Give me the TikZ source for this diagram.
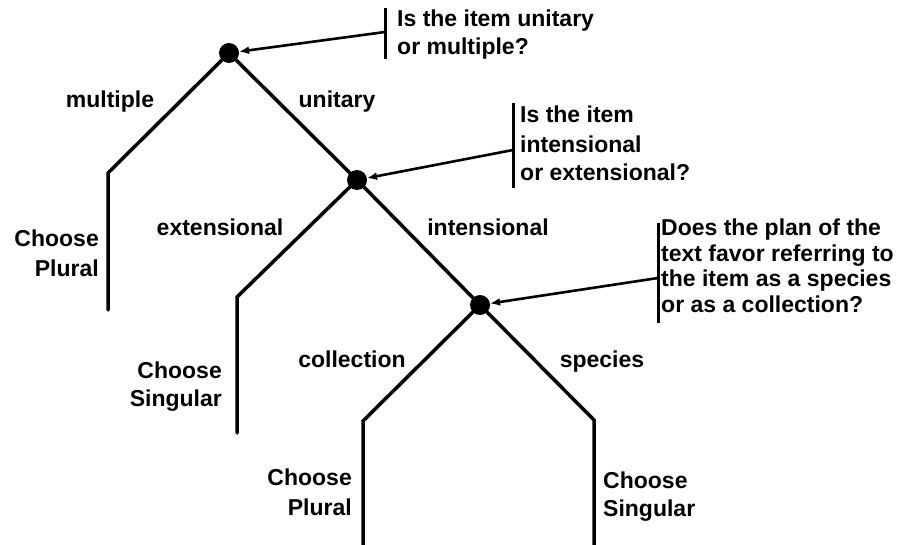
\documentclass[tikz,border=0pt]{standalone}
\usepackage{fontspec}
\setmainfont{Liberation Sans}
\usetikzlibrary{arrows.meta}

\tikzset{
  branch/.style={line width=3.5pt, line join=miter, line cap=round},
  bar/.style={line width=3pt},
  pointer/.style={line width=2.6pt, -{Latex[length=10pt,width=8pt]}},
  dotnode/.style={circle, fill=black, inner sep=0pt, minimum size=20pt},
  lbl/.style={font=\bfseries\fontsize{23}{28}\selectfont, inner sep=0pt},
  choice/.style={lbl, align=right, anchor=north east},
  choiceL/.style={lbl, align=left, anchor=north west},
  question/.style={lbl, align=left, anchor=north west},
}

\begin{document}
\begin{tikzpicture}[x=1pt, y=-1pt]
\useasboundingbox (0,0) rectangle (901,545);

% decision points
\node[dotnode] (d1) at (229,53) {};
\node[dotnode] (d2) at (357,180) {};
\node[dotnode] (d3) at (480,305) {};

% bends and ends of the branches
\coordinate (b1) at (108,173);
\coordinate (e1) at (108,310);
\coordinate (b2) at (237,297);
\coordinate (e2) at (237,433);
\coordinate (b3) at (363,421);
\coordinate (e3) at (363,547);
\coordinate (b4) at (594,420);
\coordinate (e4) at (594,547);

% tree
\draw[branch] (d1.center) -- (b1) -- (e1);
\draw[branch] (d1.center) -- (d2.center);
\draw[branch] (d2.center) -- (b2) -- (e2);
\draw[branch] (d2.center) -- (d3.center);
\draw[branch] (d3.center) -- (b3) -- (e3);
\draw[branch] (d3.center) -- (b4) -- (e4);

% branch labels
\node[lbl, anchor=base] (l1) at (110,108) {multiple};
\node[lbl, anchor=base] (l2) at (337,108) {unitary};
\node[lbl, anchor=base] (l3) at (220,236) {extensional};
\node[lbl, anchor=base] (l4) at (488,236) {intensional};
\node[lbl, anchor=base] (l5) at (352,367) {collection};
\node[lbl, anchor=base] (l6) at (602,367) {species};

% outcomes
\node[choice] (c1) at (99,230) {Choose\\[2pt]Plural};
\node[choice] (c2) at (222,362) {Choose\\Singular};
\node[choice] (c3) at (352,469) {Choose\\[2pt]Plural};
\node[choiceL] (c4) at (603,472) {Choose\\Singular};

% questions with their bars and pointers
\coordinate (q1t) at (385,8);
\coordinate (q1b) at (385,59);
\coordinate (q1m) at (385,32);
\draw[bar] (q1t) -- (q1b);
\draw[pointer] (q1m) -- (d1);
\node[question] (q1) at (397,10) {Is the item unitary\\or multiple?};

\coordinate (q2t) at (513,103);
\coordinate (q2b) at (513,188);
\coordinate (q2m) at (513,150);
\draw[bar] (q2t) -- (q2b);
\draw[pointer] (q2m) -- (d2);
\node[question] (q2) at (520,106) {Is the item\\[2pt]intensional\\or extensional?};

\coordinate (q3t) at (658,223);
\coordinate (q3b) at (658,323);
\coordinate (q3m) at (658,278);
\draw[bar] (q3t) -- (q3b);
\draw[pointer] (q3m) -- (d3);
\node[question, font=\bfseries\fontsize{23}{25.5}\selectfont] (q3) at (661,219)
  {Does the plan of the\\text favor referring to\\the item as a species\\or as a collection?};
\end{tikzpicture}
\end{document}
